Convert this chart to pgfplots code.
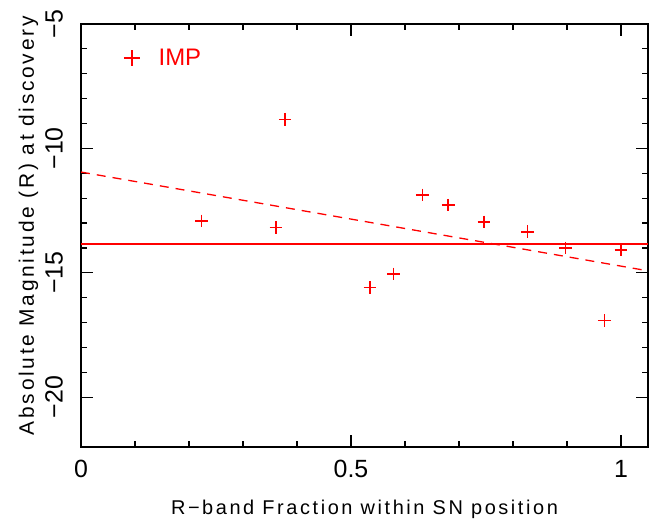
\documentclass[border=0pt]{standalone}
\usepackage{fontspec}
\setmainfont{Liberation Sans}
\newfontfamily\lblfont[LetterSpace=13]{Liberation Sans}
\usepackage{pgfplots}
\pgfplotsset{compat=1.18}

\begin{document}
\begin{tikzpicture}
\begin{axis}[name=ax, at={(0,0)}, anchor=south west,
  scale only axis, width=567bp, height=423bp,
  xmin=0, xmax=1.05, ymin=-22, ymax=-5,
  xtick={0,0.5,1}, xticklabels={0,0.5,1}, minor x tick num=4,
  ytick={-20,-15,-10,-5}, yticklabels={−20,−15,−10,−5}, minor y tick num=4,
  tick align=inside, major tick length=12bp, minor tick length=6bp,
  axis line style={line width=1.5bp},
  every tick/.style={line width=1.2bp},
  tick label style={font=\fontsize{25}{25}\selectfont, inner sep=0pt},
  xticklabel style={anchor=north}, xticklabel shift=13bp,
  yticklabel style={rotate=90, anchor=south}, yticklabel shift=18bp,
  xlabel={R−band Fraction within SN position},
  ylabel={Absolute Magnitude (R) at discovery},
  label style={inner sep=0pt},
  xlabel style={font=\lblfont\fontsize{20}{20}\selectfont, at={(axis description cs:0.5,0)}, anchor=base, yshift=-67bp},
  ylabel style={font=\lblfont\fontsize{21}{21}\selectfont, at={(axis description cs:-0.083,0.523)}, anchor=base},
  legend style={at={(axis description cs:0.074,0.920)}, anchor=west, draw=none, fill=none,
    inner sep=0pt, nodes={inner sep=0pt, text=red}, column sep=18bp,
    font=\fontsize{24}{24}\selectfont},
  legend image code/.code={\draw[red, line width=1.5bp] (-8bp,0)--(8bp,0) (0,-8bp)--(0,8bp);}]
\addplot[red, only marks, mark=+, mark size=6.3bp, line width=1.5bp] coordinates {
 (0.2235,-12.91) (0.361,-13.18) (0.378,-8.83) (0.535,-15.59) (0.579,-15.04) (0.632,-11.87)
 (0.680,-12.28) (0.746,-12.95) (0.8273,-13.35) (0.897,-14.00) (0.969,-16.91) (1.0,-14.09)};
\addlegendentry{IMP}
\addplot[red, line width=1.5bp, forget plot] coordinates {(0,-13.84) (1.05,-13.84)};
\addplot[red, line width=1.3bp, dash pattern=on 9bp off 7bp, forget plot] coordinates {(0,-10.95) (1.05,-14.92)};
\end{axis}
\pgfresetboundingbox
\path[use as bounding box] ([shift={(-81bp,-76bp)}]ax.south west) rectangle ([shift={(11bp,24bp)}]ax.north east);
\end{tikzpicture}
\end{document}
